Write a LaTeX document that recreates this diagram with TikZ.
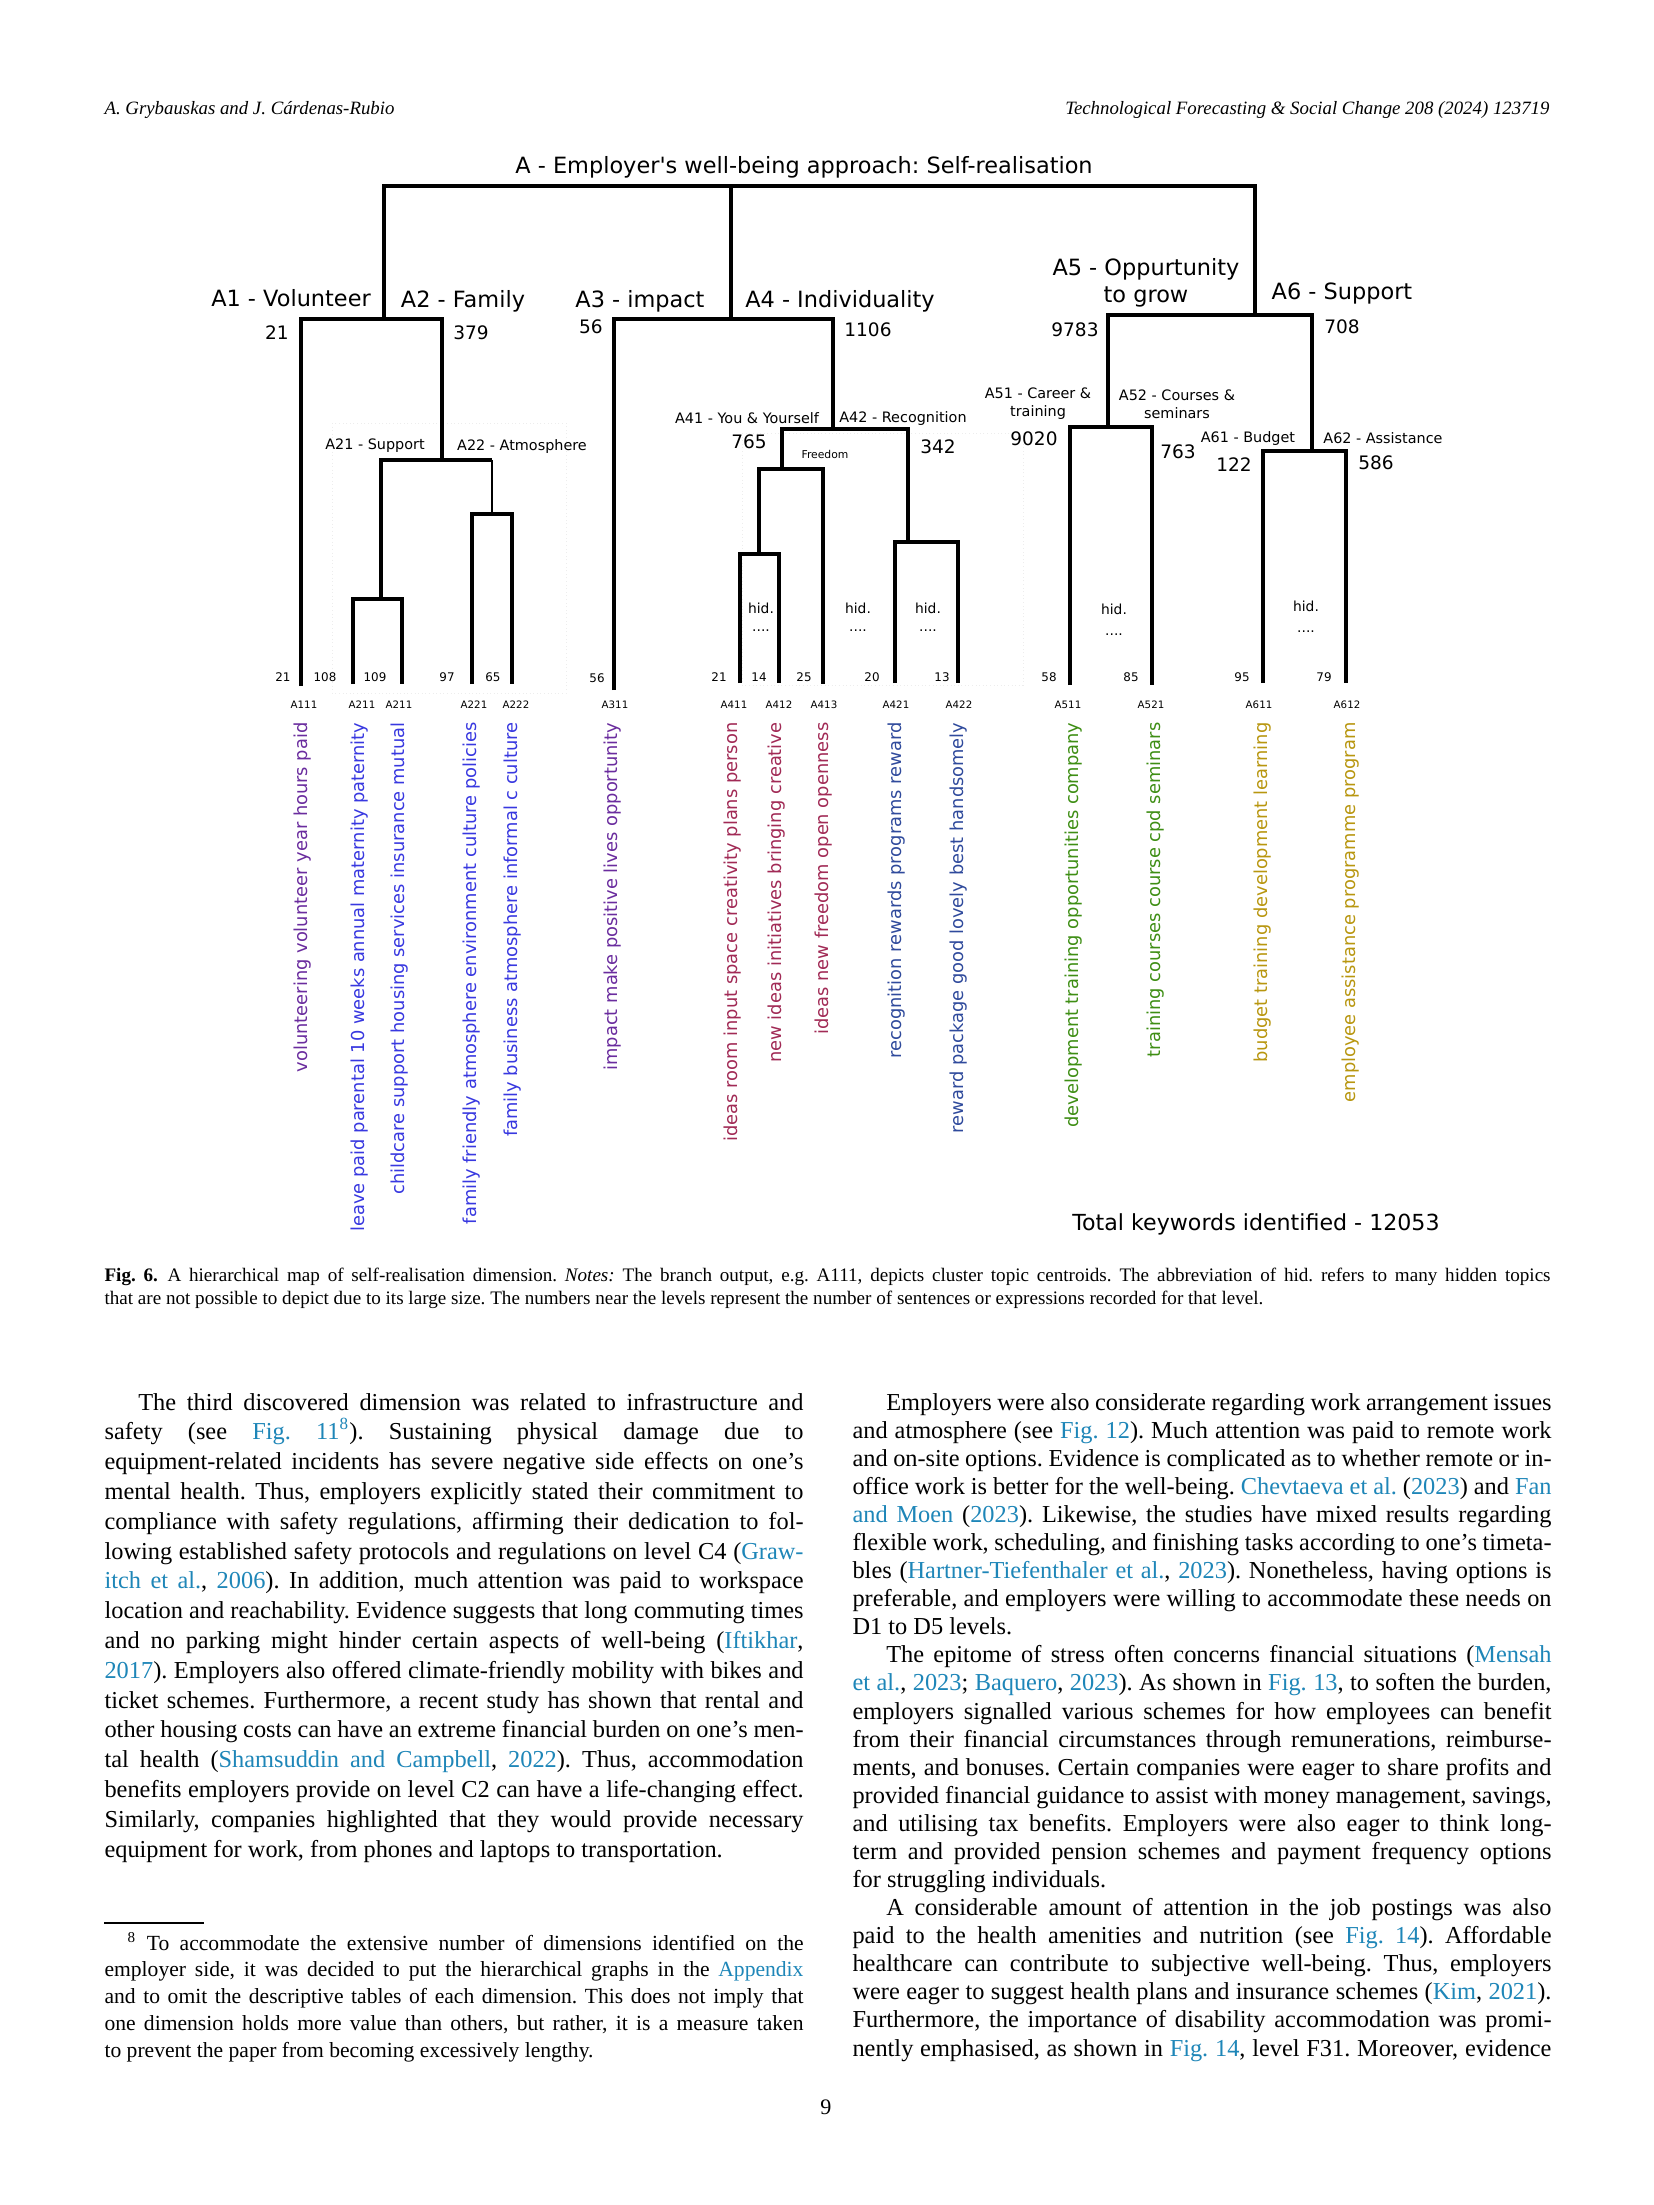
\documentclass[tikz,border=0pt]{standalone}
\usepackage{fontspec}
\setmainfont{Liberation Serif}
\newfontfamily\figfont{DejaVu Sans}[Ligatures=TeXOff]
\usetikzlibrary{calc}
\definecolor{linkblue}{HTML}{1E86B8}
\definecolor{kwpurple}{HTML}{6A2C9E}
\definecolor{kwblue}{HTML}{3838E0}
\definecolor{kwred}{HTML}{A12A55}
\definecolor{kwnavy}{HTML}{2F4A9C}
\definecolor{kwgreen}{HTML}{3E8E14}
\definecolor{kwgold}{HTML}{B8960F}
\newcommand{\lnk}[1]{\textcolor{linkblue}{#1}}
\newcommand{\fullline}[1]{\makebox[\linewidth][s]{#1}\par}
\newcommand{\parind}{\hspace*{12.2pt}}
\frenchspacing

\begin{document}
\begin{tikzpicture}[x=0.127mm, y=-0.127mm,
  link/.style={line width=1.4pt, black},
  thinlink/.style={line width=0.8pt, black},
  faint/.style={gray!14, line width=0.3pt, densely dotted},
  toplab/.style={font=\figfont\fontsize{8.1}{9.7}\selectfont, anchor=base, inner sep=0},
  midlab/.style={font=\figfont\fontsize{5.2}{6.5}\selectfont, anchor=base, inner sep=0},
  num/.style={font=\figfont\fontsize{6.7}{8}\selectfont, anchor=base, inner sep=0},
  hidlab/.style={font=\figfont\fontsize{5}{6}\selectfont, anchor=base, inner sep=0},
  cnt/.style={font=\figfont\fontsize{4.3}{5}\selectfont, anchor=base, inner sep=0},
  leaflab/.style={font=\figfont\fontsize{3.7}{4.5}\selectfont, anchor=base, inner sep=0},
  kw/.style={font=\figfont\fontsize{6.45}{7.5}\selectfont, rotate=90, anchor=east, inner sep=0},
  hdr/.style={font=\fontsize{6.8}{8}\selectfont\itshape, inner sep=0},
  textcol/.style={anchor=base west, inner sep=0}
]
\fill[white] (0,0) rectangle (1654,2205);
\useasboundingbox (0,0) rectangle (1654,2205);

% running head
\node[hdr, anchor=base west] (hdrl) at (104,114) {A. Grybauskas and J. Cárdenas-Rubio};
\node[hdr, anchor=base east] (hdrr) at (1550,114) {Technological Forecasting \& Social Change 208 (2024) 123719};

% faint frames of the figure
\draw[faint] (332,423) rectangle (566,693);
\draw[faint] (742,433) rectangle (1023,685);

% join points of the tree
\coordinate (root) at (731,186);
\coordinate (j12) at (384,319);
\coordinate (j34) at (731,319);
\coordinate (j56) at (1255,315);
\coordinate (j2) at (442,460);
\coordinate (j21) at (381,599);
\coordinate (j22) at (492,514);
\coordinate (j4) at (833,429);
\coordinate (j41) at (782,469);
\coordinate (j411) at (759,554);
\coordinate (j42) at (908,542);
\coordinate (j5) at (1108,427);
\coordinate (j6) at (1312,451);
% leaf ends
\coordinate (la111) at (301,686);
\coordinate (la211a) at (353,684);
\coordinate (la211b) at (402,684);
\coordinate (la221) at (472,684);
\coordinate (la222) at (512,684);
\coordinate (la311) at (614,690);
\coordinate (la411) at (740,683);
\coordinate (la412) at (779,683);
\coordinate (la413) at (823,684);
\coordinate (la421) at (895,683);
\coordinate (la422) at (958,683);
\coordinate (la511) at (1070,685);
\coordinate (la521) at (1152,685);
\coordinate (la611) at (1263,683);
\coordinate (la612) at (1346,683);

\draw[link] (j12) |- (root) -| (j56);
\draw[link] (root) -- (j34);
\draw[link] (la111) |- (j12) -| (j2);
\draw[link] (j21) |- (j2) -- (j2 -| j22);
\draw[thinlink] (j2 -| j22) -- (j22);
\draw[link] (la211a) |- (j21) -| (la211b);
\draw[link] (la221) |- (j22) -| (la222);
\draw[link] (la311) |- (j34) -| (j4);
\draw[link] (j41) |- (j4) -| (j42);
\draw[link] (j411) |- (j41) -| (la413);
\draw[link] (la411) |- (j411) -| (la412);
\draw[link] (la421) |- (j42) -| (la422);
\draw[link] (j5) |- (j56) -| (j6);
\draw[link] (la511) |- (j5) -| (la521);
\draw[link] (la611) |- (j6) -| (la612);

% branch names
\node[toplab] (title) at (804,173) {A - Employer's well-being approach: Self-realisation};
\node[toplab] (a1) at (291,306) {A1 - Volunteer};
\node[toplab] (a2) at (463,307) {A2 - Family};
\node[toplab] (a3) at (640,307) {A3 - impact};
\node[toplab] (a4) at (840,307) {A4 - Individuality};
\node[toplab, anchor=center, align=center] (a5) at (1146,283) {A5 - Oppurtunity\\to grow};
\node[toplab] (a6) at (1342,299) {A6 - Support};

\node[midlab] (a21) at (375,449) {A21 - Support};
\node[midlab] (a22) at (522,450) {A22 - Atmosphere};
\node[midlab] (a41) at (747,423) {A41 - You \& Yourself};
\node[midlab] (a42) at (903,422) {A42 - Recognition};
\node[midlab, anchor=center, align=center] (a51) at (1038,404) {A51 - Career \&\\training};
\node[midlab, anchor=center, align=center] (a52) at (1177,404) {A52 - Courses \&\\seminars};
\node[midlab] (a61) at (1248,442) {A61 - Budget};
\node[midlab] (a62) at (1383,443) {A62 - Assistance};
\node[font=\figfont\fontsize{3.9}{4.5}\selectfont, anchor=base, inner sep=0] (a413) at (825,458) {Freedom};

% sentence counts
\node[num] (n1) at (277,339) {21};
\node[num] (n2) at (471,339) {379};
\node[num] (n3) at (591,333) {56};
\node[num] (n4) at (868,336) {1106};
\node[num] (n5) at (1075,336) {9783};
\node[num] (n6) at (1342,333) {708};
\node[num] (n41) at (749,448) {765};
\node[num] (n42) at (938,453) {342};
\node[num] (n51) at (1034,445) {9020};
\node[num] (n52) at (1178,458) {763};
\node[num] (n61) at (1234,471) {122};
\node[num] (n62) at (1376,469) {586};

% hidden topics
\node[hidlab] (h1) at (761,613) {hid.};
\node[hidlab] (h1d) at (761,631) {....};
\node[hidlab] (h2) at (858,613) {hid.};
\node[hidlab] (h2d) at (858,631) {....};
\node[hidlab] (h3) at (928,613) {hid.};
\node[hidlab] (h3d) at (928,631) {....};
\node[hidlab] (h4) at (1114,614) {hid.};
\node[hidlab] (h4d) at (1114,635) {....};
\node[hidlab] (h5) at (1306,611) {hid.};
\node[hidlab] (h5d) at (1306,632) {....};

% leaf counts
\node[cnt] (c1) at (283,681) {21};
\node[cnt] (c2) at (325,681) {108};
\node[cnt] (c3) at (375,681) {109};
\node[cnt] (c4) at (447,681) {97};
\node[cnt] (c5) at (493,681) {65};
\node[cnt] (c6) at (597,682) {56};
\node[cnt] (c7) at (719,681) {21};
\node[cnt] (c8) at (759,681) {14};
\node[cnt] (c9) at (804,681) {25};
\node[cnt] (c10) at (872,681) {20};
\node[cnt] (c11) at (942,681) {13};
\node[cnt] (c12) at (1049,681) {58};
\node[cnt] (c13) at (1131,681) {85};
\node[cnt] (c14) at (1242,681) {95};
\node[cnt] (c15) at (1324,681) {79};

% leaf names
\node[leaflab] (t111) at (304,708) {A111};
\node[leaflab] (t211a) at (362,708) {A211};
\node[leaflab] (t211b) at (399,708) {A211};
\node[leaflab] (t221) at (474,708) {A221};
\node[leaflab] (t222) at (516,708) {A222};
\node[leaflab] (t311) at (615,708) {A311};
\node[leaflab] (t411) at (734,708) {A411};
\node[leaflab] (t412) at (779,708) {A412};
\node[leaflab] (t413) at (824,708) {A413};
\node[leaflab] (t421) at (896,708) {A421};
\node[leaflab] (t422) at (959,708) {A422};
\node[leaflab] (t511) at (1068,708) {A511};
\node[leaflab] (t521) at (1151,708) {A521};
\node[leaflab] (t611) at (1259,708) {A611};
\node[leaflab] (t612) at (1347,708) {A612};

% topic keywords
\node[kw, kwpurple] (k111) at (303,722) {volunteering volunteer year hours paid};
\node[kw, kwblue] (k211a) at (360,722) {leave paid parental 10 weeks annual maternity paternity};
\node[kw, kwblue] (k211b) at (400,722) {childcare support housing services insurance mutual};
\node[kw, kwblue] (k221) at (472,722) {family friendly atmosphere environment culture policies};
\node[kw, kwblue] (k222) at (513,722) {family business atmosphere informal c culture};
\node[kw, kwpurple] (k311) at (613,722) {impact make positive lives opportunity};
\node[kw, kwred] (k411) at (733,722) {ideas room input space creativity plans person};
\node[kw, kwred] (k412) at (777,722) {new ideas initiatives bringing creative};
\node[kw, kwred] (k413) at (824,722) {ideas new freedom open openness};
\node[kw, kwnavy] (k421) at (897,722) {recognition rewards programs reward};
\node[kw, kwnavy] (k422) at (959,722) {reward package good lovely best handsomely};
\node[kw, kwgreen] (k511) at (1074,722) {development training opportunities company};
\node[kw, kwgreen] (k521) at (1156,722) {training courses course cpd seminars};
\node[kw, kwgold] (k611) at (1263,722) {budget training development learning};
\node[kw, kwgold] (k612) at (1351,722) {employee assistance programme program};

\node[font=\figfont\fontsize{8}{9.6}\selectfont, anchor=base, inner sep=0] (total) at (1256,1230) {Total keywords identified - 12053};

% caption
\node[textcol] (caption) at (104,1281) {\parbox[t]{183.64mm}{\fontsize{6.9}{8.64}\selectfont
\fullline{\textbf{Fig. 6.}\enspace A hierarchical map of self-realisation dimension. \textit{Notes:} The branch output, e.g. A111, depicts cluster topic centroids. The abbreviation of hid. refers to many hidden topics}
that are not possible to depict due to its large size. The numbers near the levels represent the number of sentences or expressions recorded for that level.}};

% body text, left column
\node[textcol] (leftcol) at (104,1410) {\parbox[t]{88.77mm}{\fontsize{8.8}{10.77}\selectfont
\fullline{\parind The third discovered dimension was related to infrastructure and}
\fullline{safety (see \lnk{Fig. 11\textsuperscript{8}}). Sustaining physical damage due to}
\fullline{equipment-related incidents has severe negative side effects on one's}
\fullline{mental health. Thus, employers explicitly stated their commitment to}
\fullline{compliance with safety regulations, affirming their dedication to fol-}
\fullline{lowing established safety protocols and regulations on level C4 (\lnk{Graw-}}
\fullline{\lnk{itch et al.}, \lnk{2006}). In addition, much attention was paid to workspace}
\fullline{location and reachability. Evidence suggests that long commuting times}
\fullline{and no parking might hinder certain aspects of well-being (\lnk{Iftikhar},}
\fullline{\lnk{2017}). Employers also offered climate-friendly mobility with bikes and}
\fullline{ticket schemes. Furthermore, a recent study has shown that rental and}
\fullline{other housing costs can have an extreme financial burden on one's men-}
\fullline{tal health (\lnk{Shamsuddin and Campbell}, \lnk{2022}). Thus, accommodation}
\fullline{benefits employers provide on level C2 can have a life-changing effect.}
\fullline{Similarly, companies highlighted that they would provide necessary}
equipment for work, from phones and laptops to transportation.}};

% body text, right column
\node[textcol] (rightcol) at (852,1410) {\parbox[t]{88.77mm}{\fontsize{8.8}{10.15}\selectfont
\fullline{\parind Employers were also considerate regarding work arrangement issues}
\fullline{and atmosphere (see \lnk{Fig. 12}). Much attention was paid to remote work}
\fullline{and on-site options. Evidence is complicated as to whether remote or in-}
\fullline{office work is better for the well-being. \lnk{Chevtaeva et al.} (\lnk{2023}) and \lnk{Fan}}
\fullline{\lnk{and Moen} (\lnk{2023}). Likewise, the studies have mixed results regarding}
\fullline{flexible work, scheduling, and finishing tasks according to one's timeta-}
\fullline{bles (\lnk{Hartner-Tiefenthaler et al.}, \lnk{2023}). Nonetheless, having options is}
\fullline{preferable, and employers were willing to accommodate these needs on}
D1 to D5 levels.\par
\fullline{\parind The epitome of stress often concerns financial situations (\lnk{Mensah}}
\fullline{\lnk{et al.}, \lnk{2023}; \lnk{Baquero}, \lnk{2023}). As shown in \lnk{Fig. 13}, to soften the burden,}
\fullline{employers signalled various schemes for how employees can benefit}
\fullline{from their financial circumstances through remunerations, reimburse-}
\fullline{ments, and bonuses. Certain companies were eager to share profits and}
\fullline{provided financial guidance to assist with money management, savings,}
\fullline{and utilising tax benefits. Employers were also eager to think long-}
\fullline{term and provided pension schemes and payment frequency options}
for struggling individuals.\par
\fullline{\parind A considerable amount of attention in the job postings was also}
\fullline{paid to the health amenities and nutrition (see \lnk{Fig. 14}). Affordable}
\fullline{healthcare can contribute to subjective well-being. Thus, employers}
\fullline{were eager to suggest health plans and insurance schemes (\lnk{Kim}, \lnk{2021}).}
\fullline{Furthermore, the importance of disability accommodation was promi-}
\fullline{nently emphasised, as shown in \lnk{Fig. 14}, level F31. Moreover, evidence}}};

% footnote
\draw[line width=0.4pt] (104,1923) -- (204,1923);
\node[textcol] (footnote) at (104,1950) {\parbox[t]{88.77mm}{\fontsize{7.8}{9.72}\selectfont
\fullline{\hspace*{8.3pt}\textsuperscript{8}\ To accommodate the extensive number of dimensions identified on the}
\fullline{employer side, it was decided to put the hierarchical graphs in the \lnk{Appendix}}
\fullline{and to omit the descriptive tables of each dimension. This does not imply that}
\fullline{one dimension holds more value than others, but rather, it is a measure taken}
to prevent the paper from becoming excessively lengthy.}};

\node[anchor=base, inner sep=0, font=\fontsize{8}{9}\selectfont] (pagenum) at (826,2114) {9};
\end{tikzpicture}
\end{document}
